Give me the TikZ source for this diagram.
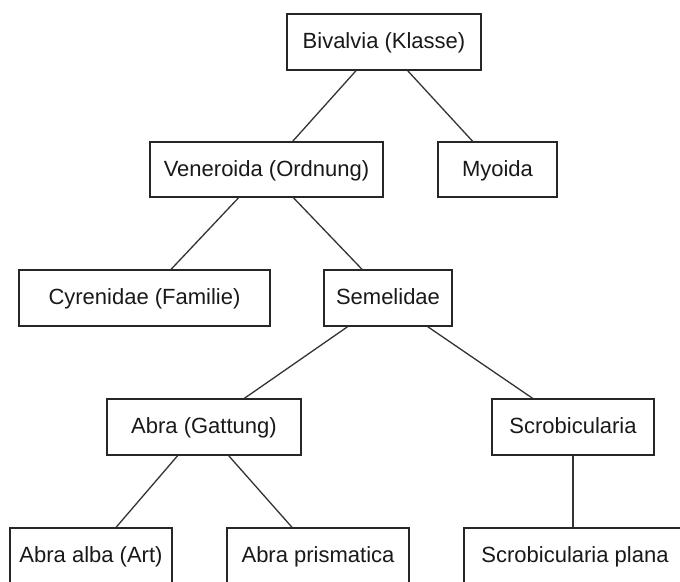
\documentclass[tikz,border=0pt]{standalone}
\usepackage{fontspec}
\setmainfont{Liberation Sans}
\usetikzlibrary{calc}
\begin{document}
\begin{tikzpicture}[x=1pt,y=-1pt,
  box/.style={draw=black!85,line width=1.3pt,rectangle,inner sep=0pt,
    text height=15.8pt,text depth=2.4pt,
    font=\fontsize{22}{26}\selectfont,text=black!90},
  link/.style={draw=black!80,line width=1.3pt}]
\useasboundingbox (0,0) rectangle (680,581);
\clip (0,0) rectangle (680,581);
\fill[white] (0,0) rectangle (680,581);
% boxes: center, width, height
\node[box,minimum width=194pt,minimum height=56pt] (biv) at (384,42) {Bivalvia (Klasse)};
\node[box,minimum width=233pt,minimum height=55pt] (ven) at (266.5,169.5) {Veneroida (Ordnung)};
\node[box,minimum width=119pt,minimum height=55pt] (myo) at (497.5,169.5) {Myoida};
\node[box,minimum width=251pt,minimum height=56pt] (cyr) at (144.5,298) {Cyrenidae (Familie)};
\node[box,minimum width=128pt,minimum height=56pt] (sem) at (388,298) {Semelidae};
\node[box,minimum width=194pt,minimum height=56pt] (abra) at (204,427) {Abra (Gattung)};
\node[box,minimum width=162pt,minimum height=56pt] (scr) at (573,427) {Scrobicularia};
\node[box,minimum width=162pt,minimum height=56pt] (alba) at (91,556) {Abra alba (Art)};
\node[box,minimum width=182pt,minimum height=56pt] (pris) at (318,556) {Abra prismatica};
\node[box,minimum width=222pt,minimum height=56pt] (plana) at (575,556) {Scrobicularia plana};
% connectors
\draw[link] ($(biv.south west)+(69.7,0)$) -- ($(ven.north west)+(143.3,0)$);
\draw[link] ($(biv.south west)+(121.3,0)$) -- ($(myo.north west)+(35.3,0)$);
\draw[link] ($(ven.south west)+(89.3,0)$) -- ($(cyr.north west)+(152.7,0)$);
\draw[link] ($(ven.south west)+(144,0)$) -- ($(sem.north west)+(38.7,0)$);
\draw[link] ($(sem.south west)+(24.3,0)$) -- ($(abra.north west)+(138,0)$);
\draw[link] ($(sem.south west)+(104.3,0)$) -- ($(scr.north west)+(41.3,0)$);
\draw[link] ($(abra.south west)+(71.3,0)$) -- ($(alba.north west)+(106.7,0)$);
\draw[link] ($(abra.south west)+(122.3,0)$) -- ($(pris.north west)+(65.7,0)$);
\draw[link] (scr.south) -- (plana.north -| scr.south);
\end{tikzpicture}
\end{document}
